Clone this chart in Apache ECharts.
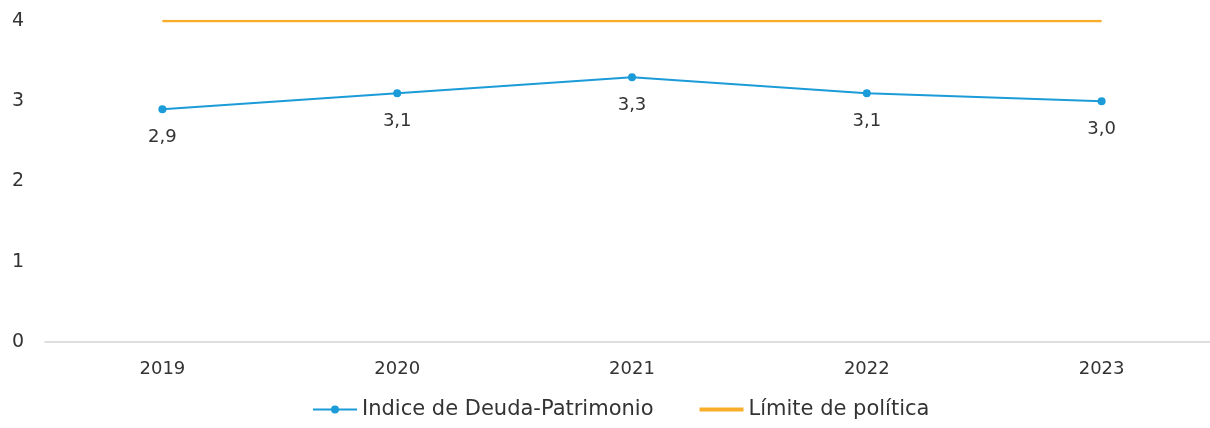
<!DOCTYPE html>
<html>
<head>
<meta charset="utf-8">
<script src="https://cdn.jsdelivr.net/npm/echarts@6/dist/echarts.min.js"></script>
<style>
	html, body { margin: 0; padding: 0; background: #fff; }
	#main { width: 1210px; height: 428px; }
</style>
</head>
<body>
<div id="main"></div>
<script>
var years = ["2019", "2020", "2021", "2022", "2023"];
var indice = [2.9, 3.1, 3.3, 3.1, 3.0];
var limite = [4, 4, 4, 4, 4];
var yTicks = [0, 1, 2, 3, 4];

var font = "DejaVu Sans";
var cc = echarts.init(document.getElementById("main"));

var op = {
	textStyle: { fontFamily: font },
	grid: { left: 45, width: 1174, top: 21, bottom: 86, outerBoundsMode: "none" },
	legend: {
		bottom: 3,
		left: 308,
		itemWidth: 44,
		itemHeight: 10,
		itemGap: 46,
		textStyle: { fontSize: 21, color: "#333", fontFamily: font },
		data: [
			{ name: "Indice de Deuda-Patrimonio", icon: "path://M0,4 L44,4 L44,6 L0,6 Z M22,1 A4,4 0 1 1 22,9 A4,4 0 1 1 22,1 Z" },
			{ name: "Límite de política", icon: "path://M0,3 L44,3 L44,7 L0,7 Z" }
		]
	},
	xAxis: {
		type: "category",
		data: years,
		boundaryGap: true,
		axisLine: { lineStyle: { color: "#d4d4d4", width: 1.5 } },
		axisTick: { show: false },
		axisLabel: { fontSize: 18, color: "#333", margin: 18 }
	},
	yAxis: {
		type: "value",
		min: yTicks[0],
		max: yTicks[yTicks.length - 1],
		interval: 1,
		splitLine: { show: false },
		axisLabel: { fontSize: 19, color: "#333", margin: 21 }
	},
	series: [
		{
			name: "Indice de Deuda-Patrimonio",
			type: "line",
			data: indice,
			color: "#1b9cd8",
			symbol: "circle",
			symbolSize: 8,
			lineStyle: { width: 2 },
			label: {
				show: true,
				position: "bottom",
				distance: 15,
				fontSize: 18,
				color: "#333",
				formatter: function (p) { return p.value.toFixed(1).replace(".", ","); }
			}
		},
		{
			name: "Límite de política",
			type: "line",
			data: limite,
			color: "#f9ae2b",
			symbol: "none",
			lineStyle: { width: 2.5 }
		}
	]
};

cc.setOption(op);
</script>
</body>
</html>
